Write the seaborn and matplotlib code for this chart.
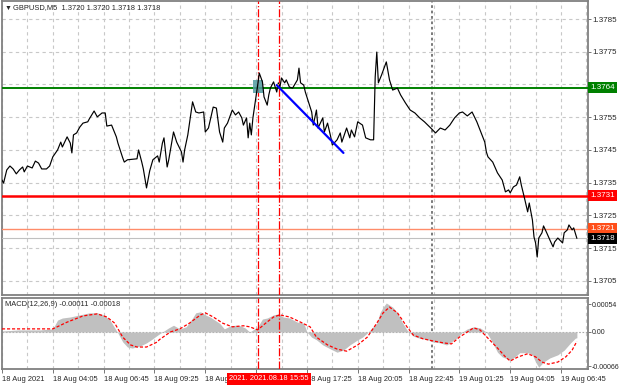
import matplotlib
matplotlib.use('Agg')
import matplotlib.pyplot as plt
import matplotlib.transforms as mtransforms
from matplotlib.patches import Rectangle
import seaborn as sns

# ──────────────────────────────────────────
# DONNÉES (index de barre M5 depuis 18 Aug 01:25)
# ──────────────────────────────────────────
bars = [0, 1, 3, 5, 7, 9, 11, 13, 14, 16, 19, 21, 23, 25, 28, 30, 32, 35, 37, 38,
        41, 43, 44, 45, 47, 49, 51, 54, 55, 58, 60, 63, 65, 66, 69, 72, 73, 76, 77, 79,
        85, 86, 88, 89, 91, 93, 95, 98, 99, 101, 102, 104, 105, 108, 110, 113, 114, 115, 117, 120,
        122, 124, 127, 128, 130, 133, 135, 137, 139, 140, 142, 145, 147, 149, 151, 152, 154, 155, 156, 157,
        158, 159, 161, 162, 164, 165, 167, 168, 169, 171, 173, 174, 175, 176, 178, 179, 181, 183, 186, 187,
        188, 190, 191, 193, 195, 196, 198, 199, 202, 203, 205, 207, 208, 211, 213, 214, 217, 219, 220, 222,
        224, 227, 229, 232, 234, 235, 236, 237, 239, 242, 244, 246, 249, 251, 254, 257, 260, 263, 266, 270,
        273, 276, 279, 282, 285, 288, 290, 293, 296, 299, 301, 304, 305, 306, 309, 312, 314, 315, 317, 319,
        320, 322, 324, 326, 327, 329, 331, 332, 334, 335, 336, 337, 338, 340, 341, 343, 345, 347, 348, 350,
        353, 354, 356, 357, 359, 360, 362]
close = [1.37358, 1.37349, 1.37389, 1.37401, 1.37392, 1.37377, 1.37389, 1.37398, 1.37383, 1.37401,
         1.37395, 1.37416, 1.37410, 1.37392, 1.37392, 1.37401, 1.37429, 1.37450, 1.37474, 1.37459,
         1.37490, 1.37471, 1.37441, 1.37496, 1.37502, 1.37520, 1.37532, 1.37536, 1.37545, 1.37569,
         1.37551, 1.37563, 1.37563, 1.37523, 1.37526, 1.37490, 1.37471, 1.37426, 1.37413, 1.37420,
         1.37423, 1.37450, 1.37413, 1.37392, 1.37334, 1.37386, 1.37420, 1.37432, 1.37413, 1.37471,
         1.37487, 1.37398, 1.37420, 1.37505, 1.37474, 1.37444, 1.37413, 1.37450, 1.37496, 1.37597,
         1.37566, 1.37563, 1.37566, 1.37505, 1.37517, 1.37581, 1.37578, 1.37505, 1.37474, 1.37517,
         1.37532, 1.37572, 1.37557, 1.37566, 1.37548, 1.37526, 1.37548, 1.37487, 1.37532, 1.37496,
         1.37548, 1.37581, 1.37648, 1.37685, 1.37658, 1.37612, 1.37587, 1.37618, 1.37639, 1.37658,
         1.37627, 1.37655, 1.37642, 1.37670, 1.37655, 1.37664, 1.37642, 1.37639, 1.37664, 1.37700,
         1.37655, 1.37648, 1.37627, 1.37597, 1.37566, 1.37526, 1.37572, 1.37517, 1.37548, 1.37505,
         1.37532, 1.37490, 1.37465, 1.37481, 1.37502, 1.37474, 1.37517, 1.37487, 1.37511, 1.37490,
         1.37536, 1.37526, 1.37487, 1.37481, 1.37481, 1.37673, 1.37749, 1.37655, 1.37679, 1.37719,
         1.37664, 1.37633, 1.37639, 1.37618, 1.37594, 1.37572, 1.37563, 1.37548, 1.37536, 1.37517,
         1.37502, 1.37517, 1.37511, 1.37526, 1.37548, 1.37563, 1.37566, 1.37554, 1.37566, 1.37536,
         1.37511, 1.37474, 1.37444, 1.37429, 1.37413, 1.37380, 1.37365, 1.37358, 1.37322, 1.37328,
         1.37319, 1.37337, 1.37343, 1.37368, 1.37343, 1.37303, 1.37261, 1.37288, 1.37236, 1.37184,
         1.37166, 1.37123, 1.37181, 1.37197, 1.37218, 1.37197, 1.37175, 1.37154, 1.37169, 1.37181,
         1.37166, 1.37197, 1.37206, 1.37221, 1.37206, 1.37212, 1.37180]

# MACD principal (histogramme) et signal
macd_bars = [0, 11, 24, 32, 35, 38, 43, 49, 55, 60, 64, 68, 71, 73, 76, 79, 82, 87, 91, 94,
             98, 99, 105, 108, 112, 116, 120, 122, 125, 128, 131, 134, 137, 140, 144, 147, 150, 153, 156, 161,
             164, 167, 171, 174, 177, 181, 186, 190, 192, 195, 198, 202, 207, 211, 215, 219, 224, 227, 230, 233,
             236, 238, 240, 242, 246, 249, 252, 255, 259, 263, 268, 271, 276, 280, 283, 287, 290, 293, 297, 301,
             305, 307, 309, 312, 315, 320, 323, 326, 331, 334, 336, 338, 341, 345, 350, 354, 358, 361, 362]
macd_vals = [0.00002, 0.00004, 0.00004, 0.00006, 0.00023, 0.00027, 0.00029, 0.00033, 0.00037, 0.00037,
             0.00033, 0.00023, 0.00008, -0.00002, -0.00019, -0.00029, -0.00031, -0.00027, -0.00021, -0.00015,
             -0.00006, -0.00004, 0.00008, 0.00013, 0.00006, 0.00010, 0.00027, 0.00037, 0.00039, 0.00033,
             0.00029, 0.00023, 0.00017, 0.00006, 0.00012, 0.00013, 0.00012, 0.00008, 0.00000, 0.00010,
             0.00025, 0.00027, 0.00033, 0.00035, 0.00029, 0.00027, 0.00019, 0.00017, 0.00000, -0.00010,
             -0.00015, -0.00025, -0.00033, -0.00039, -0.00035, -0.00025, -0.00015, -0.00010, -0.00002, 0.00008,
             0.00017, 0.00037, 0.00048, 0.00056, 0.00048, 0.00037, 0.00019, 0.00004, -0.00008, -0.00012,
             -0.00015, -0.00019, -0.00021, -0.00025, -0.00019, -0.00010, 0.00000, 0.00006, 0.00010, 0.00008,
             0.00000, -0.00010, -0.00021, -0.00039, -0.00048, -0.00054, -0.00048, -0.00040, -0.00040, -0.00044,
             -0.00058, -0.00068, -0.00058, -0.00050, -0.00044, -0.00035, -0.00021, -0.00012, -0.00011]
signal_bars = [0, 32, 41, 51, 60, 66, 71, 76, 81, 85, 91, 98, 99, 106, 112, 118, 125, 128, 133, 139,
               145, 152, 156, 161, 166, 171, 175, 181, 188, 194, 198, 205, 211, 217, 224, 230, 236, 240, 244, 249,
               255, 259, 265, 271, 278, 283, 288, 293, 297, 301, 306, 312, 317, 320, 325, 331, 336, 340, 344, 350,
               355, 359, 362]
signal_vals = [0.00006, 0.00006, 0.00019, 0.00031, 0.00035, 0.00029, 0.00017, -0.00010, -0.00025, -0.00029,
               -0.00029, -0.00019, -0.00015, 0.00000, 0.00006, 0.00017, 0.00033, 0.00037, 0.00029, 0.00017,
               0.00010, 0.00012, 0.00010, 0.00004, 0.00017, 0.00029, 0.00033, 0.00029, 0.00019, 0.00010,
               -0.00010, -0.00025, -0.00033, -0.00037, -0.00025, -0.00010, 0.00017, 0.00037, 0.00048, 0.00037,
               0.00010, -0.00006, -0.00013, -0.00017, -0.00021, -0.00023, -0.00010, 0.00000, 0.00008, 0.00004,
               -0.00012, -0.00031, -0.00048, -0.00056, -0.00048, -0.00042, -0.00048, -0.00058, -0.00062, -0.00058,
               -0.00048, -0.00035, -0.00018]

price_ticks = [1.3705, 1.3715, 1.3725, 1.3735, 1.3745, 1.3755, 1.3765, 1.3775, 1.3785]
price_tick_labels = ['1.3705', '1.3715', '1.3725', '1.3735', '1.3745', '1.3755', '', '1.3775', '1.3785']
macd_ticks = [-0.00066, 0.0, 0.00054]
macd_tick_labels = ['-0.00066', '0.00', '0.00054']
time_ticks = [0, 32, 64, 96, 128, 160, 192, 224, 256, 288, 320, 352]
time_labels = ['18 Aug 2021', '18 Aug 04:05', '18 Aug 06:45', '18 Aug 09:25', '18 Aug 12:05',
               '18 Aug 14:45', '18 Aug 17:25', '18 Aug 20:05', '18 Aug 22:45', '19 Aug 01:25',
               '19 Aug 04:05', '19 Aug 06:45']
grid_bars = list(range(0, 369, 16))

level_prices = [1.3764, 1.3731, 1.3721, 1.3718]
level_labels = ['1.3764', '1.3731', '1.3721', '1.3718']
level_colors = ['#008000', '#ff0000', '#ff8c6a', '#c0c0c0']
level_widths = [1.4, 1.8, 1.0, 0.8]
level_box_colors = ['#008000', '#ff0000', '#ff4f1a', '#000000']

trend_bars = [173, 215]
trend_prices = [1.37648, 1.37441]
marker_bars = [161.5, 174.5]
day_sep_bar = 271
box_bars = [158, 164.5]
box_prices = [1.37624, 1.37664]

# ──────────────────────────────────────────
# STYLE
# ──────────────────────────────────────────
sns.set_style('white')
plt.rcParams['font.family'] = ['Liberation Sans', 'DejaVu Sans']
plt.rcParams['font.size'] = 5.5

fig = plt.figure(figsize=(6.2, 3.88), dpi=100)
ax = fig.add_axes([2 / 620, 1 - 295 / 388, 586 / 620, 294 / 388])
ax2 = fig.add_axes([2 / 620, 1 - 369 / 388, 586 / 620, 71 / 388])

grid_kw = dict(color='#c8c8c8', linestyle=(0, (3, 3)), linewidth=0.8, zorder=0)

for a in (ax, ax2):
    a.set_xlim(0, 369)
    for b in grid_bars:
        a.axvline(b, **grid_kw)
    a.axvline(day_sep_bar, color='#707070', linestyle=(0, (1.5, 1.5)), linewidth=1.3, zorder=1)
    for m in marker_bars:
        a.axvline(m, color='#ff0000', linestyle='-.', linewidth=0.9, zorder=4)
    for s in a.spines.values():
        s.set_color('#808080')
        s.set_linewidth(1.3)
    a.yaxis.tick_right()
    a.tick_params(axis='y', length=2, width=0.6, color='#606060', pad=1, labelsize=5.8)

# ──────────────────────────────────────────
# PANNEAU PRIX
# ──────────────────────────────────────────
ax.set_ylim(1.37007, 1.37905)
for p in price_ticks:
    ax.axhline(p, **grid_kw)

sns.lineplot(x=bars, y=close, ax=ax, color='black', linewidth=0.85, zorder=5)

for p, c, w in zip(level_prices, level_colors, level_widths):
    ax.axhline(p, color=c, linewidth=w, zorder=3)

ax.add_patch(Rectangle((box_bars[0], box_prices[0]), box_bars[1] - box_bars[0],
                       box_prices[1] - box_prices[0], facecolor='#4f9aa0',
                       edgecolor='none', alpha=0.85, zorder=4))
ax.add_patch(Rectangle((173, 1.37645), 1.5, 0.00008, facecolor='#f0a040',
                       edgecolor='none', zorder=6))
ax.plot(trend_bars, trend_prices, color='#0000ff', linewidth=1.6, zorder=6)

ax.set_yticks(price_ticks)
ax.set_yticklabels(price_tick_labels)
ax.set_xticks([])
ax.set_xlabel('')
ax.set_ylabel('')

trans = mtransforms.blended_transform_factory(ax.transAxes, ax.transData)
for p, lab, bc in zip(level_prices, level_labels, level_box_colors):
    ax.text(1.004, p, lab, transform=trans, ha='left', va='center', color='white',
            fontsize=5.8, clip_on=False, zorder=10,
            bbox=dict(boxstyle='square,pad=0.25', fc=bc, ec='none'))

fig.text(5 / 620, 1 - 8 / 388, '▼', fontsize=5, va='center', ha='left')
fig.text(13 / 620, 1 - 8 / 388, 'GBPUSD,M5  1.3720 1.3720 1.3718 1.3718',
         fontsize=5.4, va='center', ha='left')

# ──────────────────────────────────────────
# PANNEAU MACD
# ──────────────────────────────────────────
ax2.set_ylim(-0.000714, 0.000656)
ax2.axhline(0, color='#a8a8a8', linestyle=(0, (1.5, 1.5)), linewidth=0.8, zorder=1)
ax2.fill_between(macd_bars, 0, macd_vals, color='#c0c0c0', linewidth=0, zorder=2)
sns.lineplot(x=signal_bars, y=signal_vals, ax=ax2, color='#ff0000', linewidth=0.9,
             linestyle=(0, (2.5, 1.5)), zorder=5)

ax2.set_yticks(macd_ticks)
ax2.set_yticklabels(macd_tick_labels)
ax2.tick_params(axis='y', labelsize=5.0, pad=0.5)
ax2.set_xticks(time_ticks)
ax2.set_xticklabels(time_labels, ha='left')
ax2.tick_params(axis='x', length=3, width=0.6, color='#606060', pad=2, labelsize=5.4,
                bottom=True)
ax2.set_xlabel('')
ax2.set_ylabel('')

fig.text(5 / 620, 1 - 305 / 388, 'MACD(12,26,9) -0.00011 -0.00018',
         fontsize=5.4, va='center', ha='left', zorder=10)

# étiquette de date surlignée
fig.text(229 / 620, 1 - 379 / 388, '2021. 2021.08.18 15:55', color='white', fontsize=5.4,
         va='center', ha='left', zorder=10,
         bbox=dict(boxstyle='square,pad=0.3', fc='#ff0000', ec='none'))

fig.savefig('out.png', dpi=100)
